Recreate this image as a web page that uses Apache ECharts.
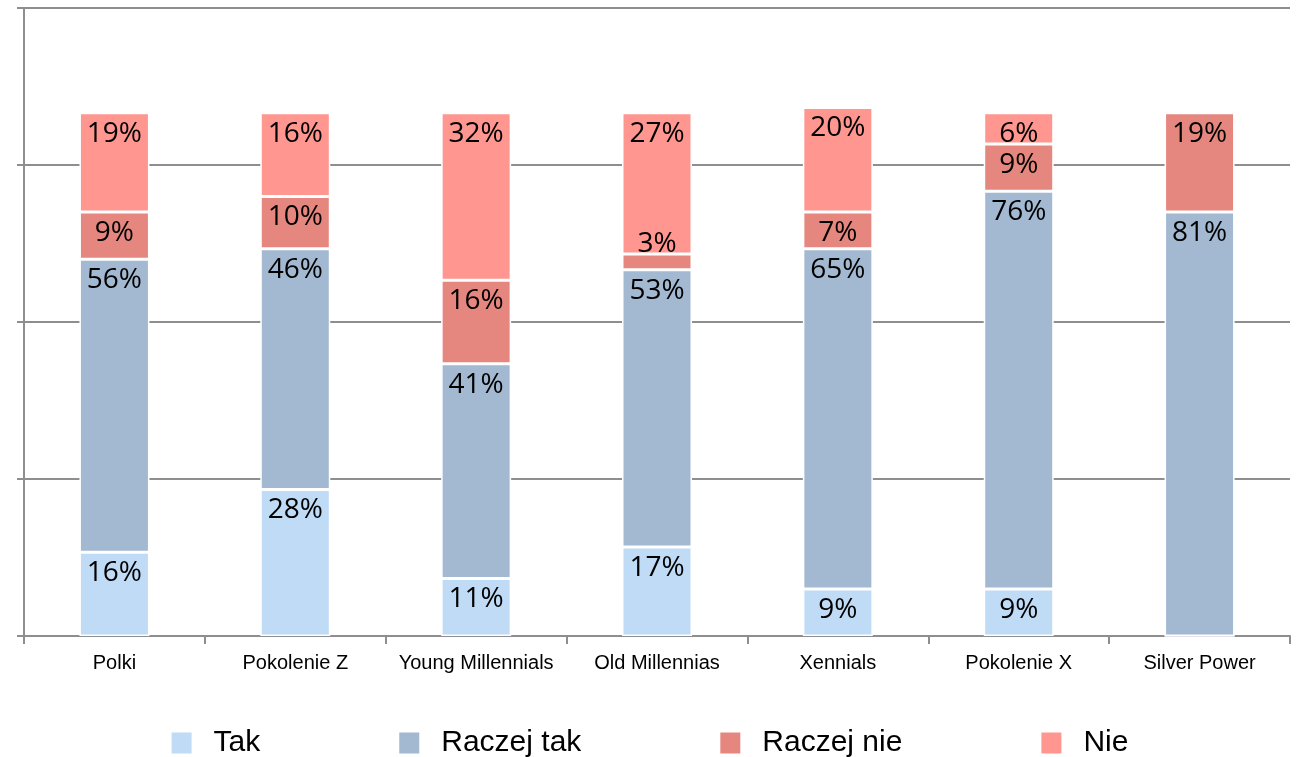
<!DOCTYPE html>
<html><head><meta charset="utf-8">
<script src="https://cdn.jsdelivr.net/npm/echarts@6/dist/echarts.min.js"></script>
<style>html,body{margin:0;padding:0;background:#fff}#c{width:1298px;height:757px}</style>
</head><body><div id="c"></div>
<script>
const categories = ['Polki','Pokolenie Z','Young Millennials','Old Millennias','Xennials','Pokolenie X','Silver Power'];
const tak        = [16, 28, 11, 17, 9, 9, 0];
const raczejTak  = [56, 46, 41, 53, 65, 76, 81];
const raczejNie  = [9, 10, 16, 3, 7, 9, 19];
const nie        = [19, 16, 32, 27, 20, 6, 0];
const seriesNames = ['Tak','Raczej tak','Raczej nie','Nie'];
const yTicks = [0, 30, 60, 90, 120];

const colors = ['#BFDBF6','#A3B9D2','#E6877F','#FF968F'];
const gridColor = '#8E8E8E';
const labelFont = '"Open Sans", "Noto Sans", sans-serif';
const sansFont = '"Liberation Sans", Arial, sans-serif';

function mkData(arr) {
  return arr.map(v => {
    if (v > 0 && v < 5) {
      return {value: v, label: {position: 'top', distance: -4}};
    }
    return v;
  });
}

const chart = echarts.init(document.getElementById('c'), null, {renderer: 'canvas'});
const dataSets = [tak, raczejTak, raczejNie, nie];
chart.setOption({
  animation: false,
  color: colors,
  grid: {left: 24, right: 8, top: 8, bottom: 121, containLabel: false},
  legend: {
    top: 723, left: 'center',
    itemWidth: 22, itemHeight: 23, itemGap: 137,
    textStyle: {fontSize: 30, color: '#000', fontFamily: sansFont, padding: [0,0,0,16]},
    icon: 'rect',
    data: seriesNames
  },
  xAxis: {
    type: 'category', data: categories,
    axisLine: {lineStyle: {color: gridColor, width: 2}},
    axisTick: {show: true, length: 8, interval: 0, lineStyle: {color: gridColor, width: 2}, alignWithLabel: false},
    axisLabel: {interval: 0, fontSize: 20, color: '#000', margin: 17, fontFamily: sansFont}
  },
  yAxis: {
    type: 'value', min: yTicks[0], max: yTicks[yTicks.length-1], interval: 30,
    axisLine: {show: true, lineStyle: {color: gridColor, width: 2}},
    axisTick: {show: true, length: 7, lineStyle: {color: gridColor, width: 2}},
    axisLabel: {show: false},
    splitLine: {show: true, lineStyle: {color: gridColor, width: 2}}
  },
  series: dataSets.map((arr, i) => ({
    name: seriesNames[i], type: 'bar', stack: 'total', barWidth: 70,
    data: mkData(arr),
    itemStyle: {borderColor: '#fff', borderWidth: 1.5},
    label: {
      show: true, position: 'insideTop', distance: 7,
      formatter: p => (p.value > 0 ? p.value + '%' : ''),
      color: '#000', fontSize: 28, fontFamily: labelFont
    }
  }))
});
</script></body></html>
